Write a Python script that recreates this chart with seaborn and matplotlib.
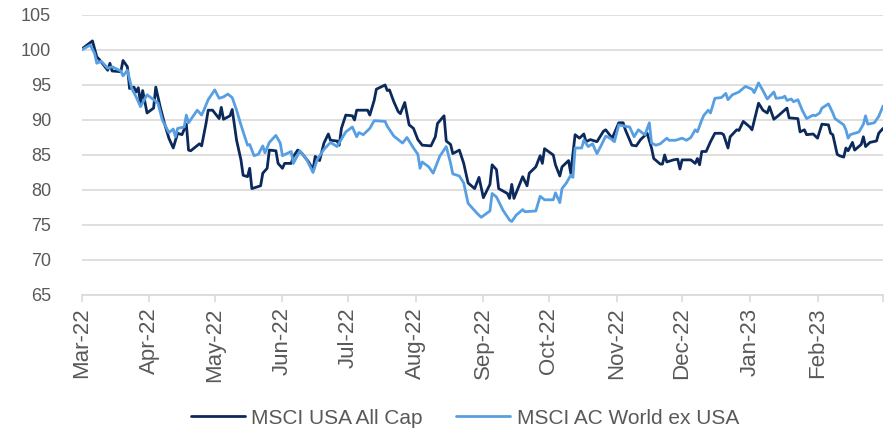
import numpy as np
import pandas as pd
import matplotlib
matplotlib.use("Agg")
import matplotlib.pyplot as plt
import matplotlib.dates as mdates
import seaborn as sns

# MSCI USA All Cap (rebased to 100)
usa_dates = [
    "2022-03-01", "2022-03-06", "2022-03-08", "2022-03-09", "2022-03-13", "2022-03-14", "2022-03-15",
    "2022-03-19", "2022-03-20", "2022-03-22", "2022-03-23", "2022-03-25", "2022-03-26", "2022-03-27",
    "2022-03-28", "2022-03-29", "2022-03-31", "2022-04-03", "2022-04-04", "2022-04-06", "2022-04-08",
    "2022-04-10", "2022-04-12", "2022-04-14", "2022-04-16", "2022-04-18", "2022-04-19", "2022-04-20",
    "2022-04-24", "2022-04-25", "2022-04-27", "2022-04-28", "2022-04-30", "2022-05-03", "2022-05-04",
    "2022-05-05", "2022-05-08", "2022-05-09", "2022-05-11", "2022-05-13", "2022-05-14", "2022-05-16",
    "2022-05-17", "2022-05-18", "2022-05-22", "2022-05-23", "2022-05-25", "2022-05-26", "2022-05-29",
    "2022-05-30", "2022-06-01", "2022-06-02", "2022-06-05", "2022-06-06", "2022-06-08", "2022-06-10",
    "2022-06-13", "2022-06-15", "2022-06-16", "2022-06-18", "2022-06-20", "2022-06-22", "2022-06-23",
    "2022-06-26", "2022-06-27", "2022-06-28", "2022-06-30", "2022-07-03", "2022-07-04", "2022-07-05",
    "2022-07-10", "2022-07-11", "2022-07-13", "2022-07-14", "2022-07-18", "2022-07-19", "2022-07-20",
    "2022-07-22", "2022-07-24", "2022-07-25", "2022-07-27", "2022-07-29", "2022-07-31", "2022-08-02",
    "2022-08-04", "2022-08-08", "2022-08-10", "2022-08-11", "2022-08-14", "2022-08-15", "2022-08-17",
    "2022-08-18", "2022-08-21", "2022-08-23", "2022-08-25", "2022-08-28", "2022-08-30", "2022-09-01",
    "2022-09-04", "2022-09-05", "2022-09-07", "2022-09-08", "2022-09-12", "2022-09-13", "2022-09-14",
    "2022-09-15", "2022-09-19", "2022-09-21", "2022-09-22", "2022-09-25", "2022-09-27", "2022-09-28",
    "2022-09-29", "2022-10-03", "2022-10-04", "2022-10-06", "2022-10-07", "2022-10-10", "2022-10-11",
    "2022-10-13", "2022-10-15", "2022-10-17", "2022-10-18", "2022-10-20", "2022-10-23", "2022-10-26",
    "2022-10-27", "2022-10-30", "2022-11-02", "2022-11-04", "2022-11-05", "2022-11-08", "2022-11-10",
    "2022-11-12", "2022-11-15", "2022-11-17", "2022-11-18", "2022-11-21", "2022-11-22", "2022-11-23",
    "2022-11-24", "2022-11-27", "2022-11-29", "2022-11-30", "2022-12-01", "2022-12-05", "2022-12-07",
    "2022-12-08", "2022-12-09", "2022-12-10", "2022-12-12", "2022-12-14", "2022-12-16", "2022-12-19",
    "2022-12-20", "2022-12-22", "2022-12-23", "2022-12-26", "2022-12-27", "2022-12-29", "2023-01-01",
    "2023-01-02", "2023-01-05", "2023-01-07", "2023-01-09", "2023-01-10", "2023-01-12", "2023-01-14",
    "2023-01-18", "2023-01-19", "2023-01-23", "2023-01-24", "2023-01-26", "2023-01-27", "2023-01-30",
    "2023-02-01", "2023-02-03", "2023-02-06", "2023-02-07", "2023-02-08", "2023-02-10", "2023-02-11",
    "2023-02-13", "2023-02-14", "2023-02-15", "2023-02-17", "2023-02-18", "2023-02-21", "2023-02-22",
    "2023-02-23", "2023-02-25", "2023-02-28", "2023-03-01", "2023-03-03",
]
usa_values = [
    100.1, 101.3, 99.0, 98.7, 97.1, 98.1, 97.0,
    96.9, 98.5, 97.6, 94.5, 94.7, 94.0, 94.6,
    92.4, 94.2, 91.0, 91.7, 94.7, 91.9, 89.5,
    87.4, 86.0, 88.1, 87.9, 89.4, 85.7, 85.6,
    86.6, 86.3, 89.5, 91.4, 91.4, 90.2, 91.8,
    90.1, 90.6, 91.5, 87.1, 84.3, 82.1, 81.9,
    83.1, 80.2, 80.6, 82.4, 83.1, 85.7, 85.6,
    83.8, 83.1, 83.8, 83.8, 84.8, 85.7, 85.2,
    84.0, 82.9, 84.8, 84.2, 86.7, 88.0, 87.1,
    87.0, 86.4, 88.8, 90.7, 90.6, 90.0, 91.4,
    91.4, 90.7, 92.8, 94.4, 95.0, 94.2, 94.3,
    92.6, 91.2, 90.9, 92.5, 89.3, 88.8, 87.2,
    86.4, 86.3, 87.6, 89.5, 90.6, 87.0, 86.5,
    85.2, 85.7, 83.8, 81.0, 80.2, 81.8, 78.9,
    80.8, 83.6, 82.9, 80.2, 79.5, 78.8, 80.8,
    78.8, 81.9, 80.6, 82.4, 83.3, 84.9, 83.8,
    85.9, 85.0, 83.6, 82.0, 83.3, 84.2, 82.4,
    87.9, 87.4, 88.0, 86.9, 87.2, 86.9, 88.4,
    88.6, 87.4, 89.6, 89.6, 88.6, 86.4, 86.3,
    87.2, 88.1, 86.0, 84.5, 83.7, 83.7, 85.0,
    84.0, 84.3, 84.4, 83.0, 84.3, 84.3, 83.8,
    84.5, 83.6, 85.5, 85.5, 86.9, 88.1, 88.1,
    87.9, 86.0, 87.6, 88.6, 88.5, 89.8, 89.0,
    88.6, 92.4, 91.4, 91.0, 91.9, 90.1, 90.6,
    91.7, 90.3, 90.2, 88.3, 88.6, 87.9, 88.0,
    87.4, 89.4, 89.3, 88.1, 87.9, 85.1, 84.9,
    84.7, 86.0, 85.6, 86.8, 85.7, 86.5, 87.6,
    86.2, 86.8, 87.0, 88.1, 88.8,
]

# MSCI AC World ex USA (rebased to 100)
world_dates = [
    "2022-03-01", "2022-03-05", "2022-03-07", "2022-03-08", "2022-03-10", "2022-03-13", "2022-03-15",
    "2022-03-19", "2022-03-20", "2022-03-22", "2022-03-24", "2022-03-26", "2022-03-28", "2022-03-31",
    "2022-04-03", "2022-04-05", "2022-04-07", "2022-04-10", "2022-04-12", "2022-04-13", "2022-04-14",
    "2022-04-17", "2022-04-18", "2022-04-19", "2022-04-21", "2022-04-23", "2022-04-25", "2022-04-26",
    "2022-04-28", "2022-05-01", "2022-05-03", "2022-05-05", "2022-05-07", "2022-05-09", "2022-05-11",
    "2022-05-13", "2022-05-16", "2022-05-17", "2022-05-19", "2022-05-21", "2022-05-23", "2022-05-24",
    "2022-05-26", "2022-05-29", "2022-05-31", "2022-06-01", "2022-06-05", "2022-06-06", "2022-06-09",
    "2022-06-12", "2022-06-15", "2022-06-17", "2022-06-20", "2022-06-23", "2022-06-26", "2022-06-30",
    "2022-07-03", "2022-07-05", "2022-07-06", "2022-07-08", "2022-07-11", "2022-07-13", "2022-07-18",
    "2022-07-19", "2022-07-22", "2022-07-26", "2022-07-28", "2022-07-31", "2022-08-02", "2022-08-03",
    "2022-08-04", "2022-08-07", "2022-08-09", "2022-08-12", "2022-08-15", "2022-08-17", "2022-08-18",
    "2022-08-21", "2022-08-23", "2022-08-25", "2022-08-29", "2022-08-31", "2022-09-04", "2022-09-05",
    "2022-09-07", "2022-09-10", "2022-09-13", "2022-09-14", "2022-09-16", "2022-09-19", "2022-09-20",
    "2022-09-25", "2022-09-27", "2022-09-29", "2022-10-03", "2022-10-04", "2022-10-06", "2022-10-07",
    "2022-10-09", "2022-10-11", "2022-10-12", "2022-10-13", "2022-10-16", "2022-10-17", "2022-10-19",
    "2022-10-21", "2022-10-23", "2022-10-25", "2022-10-27", "2022-10-29", "2022-10-31", "2022-11-02",
    "2022-11-05", "2022-11-07", "2022-11-09", "2022-11-11", "2022-11-13", "2022-11-14", "2022-11-16",
    "2022-11-17", "2022-11-19", "2022-11-21", "2022-11-24", "2022-11-25", "2022-11-28", "2022-12-01",
    "2022-12-03", "2022-12-05", "2022-12-07", "2022-12-08", "2022-12-10", "2022-12-11", "2022-12-13",
    "2022-12-14", "2022-12-16", "2022-12-19", "2022-12-21", "2022-12-22", "2022-12-24", "2022-12-27",
    "2022-12-30", "2023-01-02", "2023-01-03", "2023-01-05", "2023-01-07", "2023-01-09", "2023-01-12",
    "2023-01-13", "2023-01-16", "2023-01-17", "2023-01-18", "2023-01-20", "2023-01-21", "2023-01-23",
    "2023-01-25", "2023-01-27", "2023-01-30", "2023-01-31", "2023-02-02", "2023-02-03", "2023-02-06",
    "2023-02-08", "2023-02-09", "2023-02-13", "2023-02-14", "2023-02-15", "2023-02-16", "2023-02-20",
    "2023-02-22", "2023-02-23", "2023-02-24", "2023-02-27", "2023-03-01", "2023-03-03",
]
world_values = [
    100.0, 100.7, 99.5, 98.1, 98.4, 97.4, 97.6,
    97.0, 96.3, 97.1, 94.5, 93.3, 91.9, 93.6,
    92.9, 92.4, 90.0, 88.2, 88.7, 87.6, 88.8,
    89.0, 90.7, 89.6, 90.5, 91.4, 90.7, 91.4,
    92.9, 94.3, 93.1, 93.3, 93.7, 93.2, 91.4,
    89.3, 86.4, 86.5, 84.9, 85.1, 86.3, 85.3,
    86.8, 87.8, 86.7, 84.9, 85.5, 83.8, 85.6,
    84.4, 82.5, 84.4, 85.8, 86.8, 86.2, 88.3,
    89.0, 87.6, 88.2, 87.9, 88.8, 89.9, 89.8,
    89.1, 87.7, 86.7, 87.5, 86.0, 85.1, 83.1,
    84.0, 83.3, 82.4, 84.8, 86.2, 83.8, 82.3,
    82.0, 81.0, 78.1, 76.7, 76.1, 77.0, 79.5,
    79.0, 77.1, 75.7, 75.5, 76.4, 77.2, 76.9,
    77.0, 79.1, 78.6, 78.6, 79.6, 78.2, 80.2,
    81.0, 82.1, 81.8, 86.0, 86.0, 87.1, 86.2,
    86.6, 85.2, 86.4, 87.7, 87.4, 86.9, 89.3,
    89.1, 89.0, 87.6, 88.6, 88.1, 87.9, 89.6,
    86.7, 86.4, 86.6, 87.4, 87.1, 87.1, 87.4,
    87.1, 87.5, 88.6, 88.3, 90.0, 90.7, 91.4,
    91.0, 93.1, 93.2, 93.8, 92.9, 93.6, 94.0,
    94.8, 94.4, 93.9, 95.3, 94.2, 93.0, 94.0,
    93.1, 93.2, 93.4, 92.8, 93.0, 92.6, 92.9,
    91.4, 90.2, 90.7, 90.6, 91.0, 91.7, 92.3,
    91.0, 90.2, 89.3, 88.6, 87.4, 87.9, 88.3,
    89.4, 90.6, 89.4, 89.6, 90.5, 92.0,
]

series_names = ["MSCI USA All Cap", "MSCI AC World ex USA"]
series_colors = ["#0b2a5b", "#579fe2"]
y_ticks = [65, 70, 75, 80, 85, 90, 95, 100, 105]
month_ticks = pd.date_range("2022-03-01", "2023-02-01", freq="MS")

usa = pd.DataFrame({"date": pd.to_datetime(usa_dates), "value": usa_values})
world = pd.DataFrame({"date": pd.to_datetime(world_dates), "value": world_values})

sns.set_theme(style="white")
plt.rcParams["font.family"] = ["Liberation Sans", "DejaVu Sans"]

fig = plt.figure(figsize=(8.89, 4.38), dpi=100)
ax = fig.add_axes([0.0917, 0.3265, 0.9016, 0.6393])

sns.lineplot(data=usa, x="date", y="value", ax=ax, color=series_colors[0],
             linewidth=2.0, label=series_names[0])
sns.lineplot(data=world, x="date", y="value", ax=ax, color=series_colors[1],
             linewidth=2.0, label=series_names[1])

ax.set_ylim(65, 105)
ax.set_yticks(y_ticks)
ax.set_xlim(usa["date"].min(), usa["date"].max())
ax.set_xticks(month_ticks)
ax.xaxis.set_major_formatter(mdates.DateFormatter("%b-%y"))
ax.set_xticks([usa["date"].max()], minor=True)
ax.set_xlabel("")
ax.set_ylabel("")

ax.grid(axis="y", color="#d9d9d9", linewidth=1.2)
ax.set_axisbelow(True)
for side in ["top", "right", "left"]:
    ax.spines[side].set_visible(False)
ax.spines["bottom"].set_color("#d9d9d9")
ax.spines["bottom"].set_linewidth(1.2)

ax.tick_params(axis="y", length=0, pad=22, labelsize=13, labelcolor="#595959")
ax.tick_params(axis="x", which="both", direction="out", length=5, width=1.2, color="#d9d9d9",
               pad=4, labelsize=16, labelcolor="#595959", labelrotation=90, bottom=True)

ax.get_legend().remove()
handles, labels = ax.get_legend_handles_labels()
fig.legend(handles, labels, loc="center", bbox_to_anchor=(0.523, 0.045), ncol=2,
           frameon=False, fontsize=15, labelcolor="#595959", handlelength=2.6,
           handletextpad=0.3, columnspacing=1.6)

fig.savefig("out.png", dpi=100)
